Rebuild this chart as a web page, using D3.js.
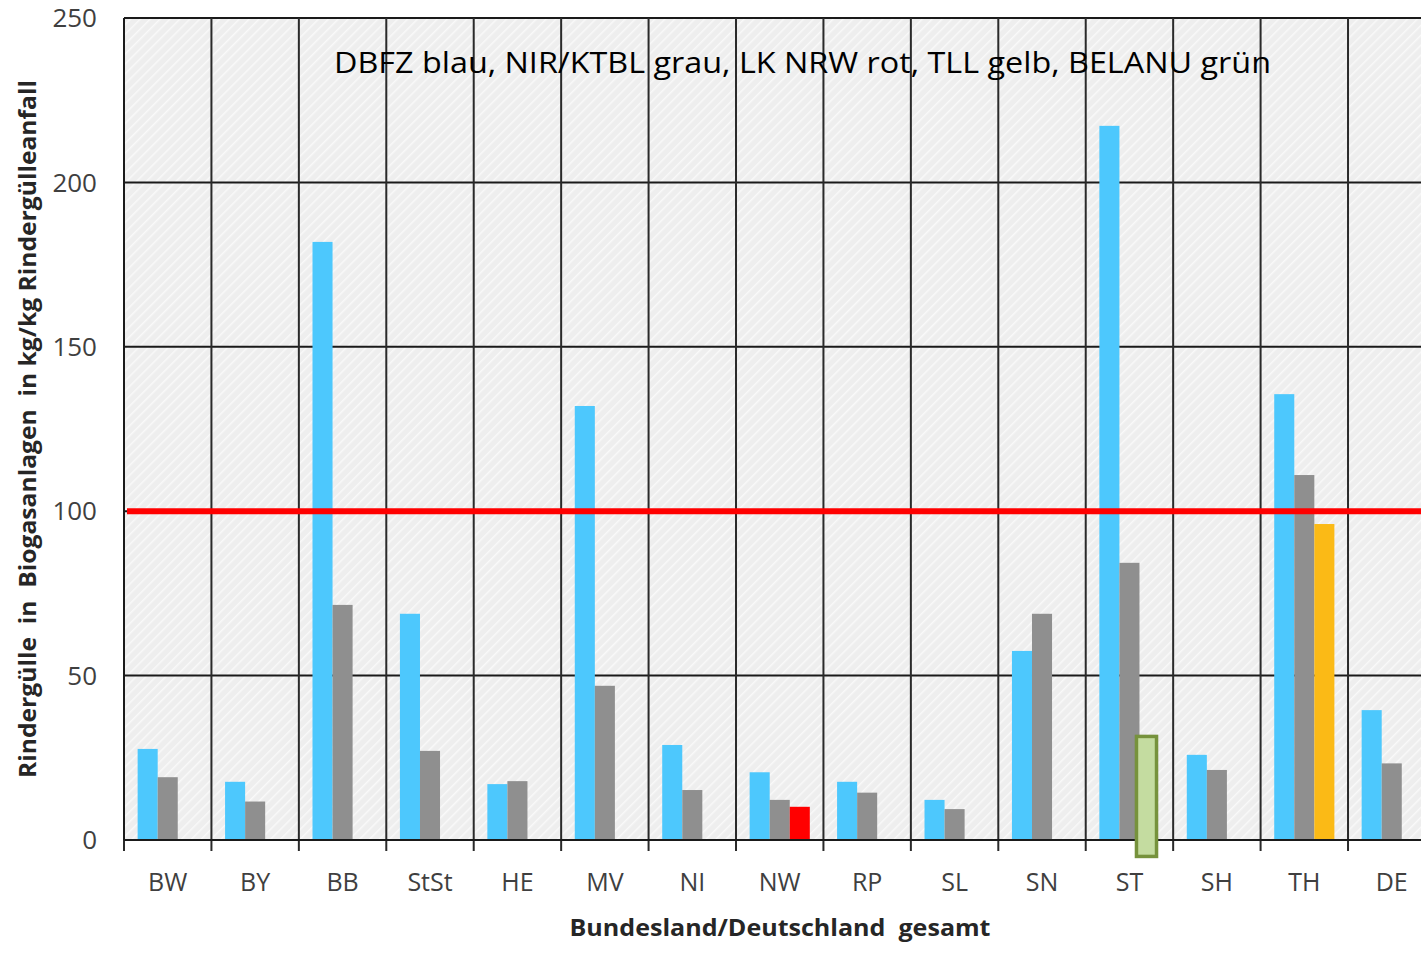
<!DOCTYPE html>
<html>
<head>
<meta charset="utf-8">
<script src="https://cdnjs.cloudflare.com/ajax/libs/d3/7.8.5/d3.min.js"></script>
<style>
  body { margin: 0; background: #fff; }
  svg text { font-family: "Open Sans", "Noto Sans", sans-serif; }
</style>
</head>
<body>
<svg id="chart" width="1421" height="955"></svg>
<script>
// categories (Bundeslaender + Deutschland)
var categories = ["BW", "BY", "BB", "StSt", "HE", "MV", "NI", "NW", "RP", "SL", "SN", "ST", "SH", "TH", "DE"];

// DBFZ (blau)
var dbfz = [27.7, 17.7, 181.9, 68.8, 17.0, 132.0, 28.9, 20.6, 17.7, 12.2, 57.5, 217.2, 25.9, 135.6, 39.5];
// NIR/KTBL (grau)
var nirKtbl = [19.1, 11.7, 71.5, 27.1, 17.9, 46.9, 15.2, 12.2, 14.4, 9.4, 68.8, 84.3, 21.3, 111.0, 23.3];
// LK NRW (rot), TLL (gelb), BELANU (gruen) - only single states
var lkNrw = [{ cat: "NW", value: 10.1 }];
var tll = [{ cat: "TH", value: 96.1 }];
var belanu = [{ cat: "ST", low: -5, value: 31.5 }];

var yTicks = [0, 50, 100, 150, 200, 250];
var refLine = 100;

var legendText = "DBFZ blau, NIR/KTBL grau, LK NRW rot, TLL gelb, BELANU grün";
var xTitle = "Bundesland/Deutschland  gesamt";
var yTitle = "Rindergülle  in  Biogasanlagen  in kg/kg Rindergülleanfall";

var margin = { top: 18, left: 124, bottom: 115 };
var height = 955;
var bandStep = 87.43;
var plotRight = margin.left + bandStep * categories.length;

var svg = d3.select("#chart");

var x = d3.scaleBand()
  .domain(categories)
  .range([margin.left, plotRight])
  .padding(0);

var slot = d3.scaleBand()
  .domain(["a", "b", "c"])
  .range([0, x.bandwidth()])
  .paddingInner(0)
  .paddingOuter(0.68);

var y = d3.scaleLinear()
  .domain([0, 250])
  .range([height - margin.bottom, margin.top]);

// hatched background
var defs = svg.append("defs");
var pat = defs.append("pattern")
  .attr("id", "hatch")
  .attr("patternUnits", "userSpaceOnUse")
  .attr("width", 7)
  .attr("height", 7)
  .attr("patternTransform", "rotate(45)");
pat.append("rect").attr("width", 7).attr("height", 7).attr("fill", "#eeeeee");
pat.append("line").attr("x1", 0).attr("y1", 0).attr("x2", 0).attr("y2", 7)
  .attr("stroke", "#f9f9f9").attr("stroke-width", 3);

svg.append("rect")
  .attr("x", margin.left)
  .attr("y", y(250))
  .attr("width", plotRight - margin.left)
  .attr("height", y(0) - y(250))
  .attr("fill", "url(#hatch)");

// horizontal grid
svg.append("g")
  .selectAll("line")
  .data(yTicks.filter(function(t){ return t > 0; }))
  .join("line")
  .attr("x1", margin.left)
  .attr("x2", plotRight)
  .attr("y1", function(d){ return y(d); })
  .attr("y2", function(d){ return y(d); })
  .attr("stroke", "#1a1a1a")
  .attr("stroke-width", 2);

// vertical grid at band boundaries
svg.append("g")
  .selectAll("line")
  .data(categories)
  .join("line")
  .attr("x1", function(d){ return x(d); })
  .attr("x2", function(d){ return x(d); })
  .attr("y1", y(250))
  .attr("y2", y(0) + 11)
  .attr("stroke", "#2a2a2a")
  .attr("stroke-width", 2);

// bars
function drawBars(values, slotKey, color) {
  svg.append("g")
    .selectAll("rect")
    .data(values)
    .join("rect")
    .attr("x", function(d, i){ return x(categories[i]) + slot(slotKey); })
    .attr("y", function(d){ return y(d); })
    .attr("width", slot.bandwidth())
    .attr("height", function(d){ return y(0) - y(d); })
    .attr("fill", color);
}
drawBars(dbfz, "a", "#4dc8fd");
drawBars(nirKtbl, "b", "#8f8f8f");

svg.append("g").selectAll("rect").data(lkNrw).join("rect")
  .attr("x", function(d){ return x(d.cat) + slot("c"); })
  .attr("y", function(d){ return y(d.value); })
  .attr("width", slot.bandwidth())
  .attr("height", function(d){ return y(0) - y(d.value); })
  .attr("fill", "#ff0000");

svg.append("g").selectAll("rect").data(tll).join("rect")
  .attr("x", function(d){ return x(d.cat) + slot("c"); })
  .attr("y", function(d){ return y(d.value); })
  .attr("width", slot.bandwidth())
  .attr("height", function(d){ return y(0) - y(d.value); })
  .attr("fill", "#fbba16");

// x axis line
svg.append("line")
  .attr("x1", margin.left)
  .attr("x2", plotRight)
  .attr("y1", y(0))
  .attr("y2", y(0))
  .attr("stroke", "#1a1a1a")
  .attr("stroke-width", 2);

// left border
svg.append("line")
  .attr("x1", margin.left).attr("x2", margin.left)
  .attr("y1", y(250)).attr("y2", y(0))
  .attr("stroke", "#1a1a1a").attr("stroke-width", 2);

// BELANU box (drawn over the axis)
svg.append("g").selectAll("rect").data(belanu).join("rect")
  .attr("x", function(d){ return x(d.cat) + slot("c") - 3; })
  .attr("y", function(d){ return y(d.value); })
  .attr("width", slot.bandwidth())
  .attr("height", function(d){ return y(d.low) - y(d.value); })
  .attr("fill", "#c4dca0")
  .attr("stroke", "#76923c")
  .attr("stroke-width", 3.5);

// reference line at 100
svg.append("line")
  .attr("x1", margin.left + 3)
  .attr("x2", plotRight)
  .attr("y1", y(refLine))
  .attr("y2", y(refLine))
  .attr("stroke", "#ff0000")
  .attr("stroke-width", 6);

// y tick labels
svg.append("g")
  .selectAll("text")
  .data(yTicks)
  .join("text")
  .attr("x", 97)
  .attr("y", function(d){ return y(d); })
  .attr("dy", "0.35em")
  .attr("text-anchor", "end")
  .attr("font-size", 26)
  .attr("fill", "#3f3f3f")
  .text(function(d){ return d; });

// x tick labels
svg.append("g")
  .selectAll("text")
  .data(categories)
  .join("text")
  .attr("x", function(d){ return x(d) + x.bandwidth() / 2; })
  .attr("y", 891)
  .attr("text-anchor", "middle")
  .attr("font-size", 25)
  .attr("fill", "#3f3f3f")
  .text(function(d){ return d; });

// axis titles
svg.append("text")
  .attr("x", 780)
  .attr("y", 936)
  .attr("text-anchor", "middle")
  .attr("font-size", 24)
  .attr("font-weight", "bold")
  .attr("fill", "#262626")
  .attr("xml:space", "preserve")
  .attr("textLength", 421)
  .attr("lengthAdjust", "spacingAndGlyphs")
  .text(xTitle);

svg.append("text")
  .attr("transform", "translate(36,429) rotate(-90)")
  .attr("text-anchor", "middle")
  .attr("font-size", 23)
  .attr("font-weight", "bold")
  .attr("fill", "#262626")
  .attr("xml:space", "preserve")
  .attr("textLength", 698)
  .attr("lengthAdjust", "spacingAndGlyphs")
  .text(yTitle);

// legend note inside plot
svg.append("text")
  .attr("x", 334)
  .attr("y", 73)
  .attr("font-size", 29)
  .attr("fill", "#000")
  .attr("textLength", 937)
  .attr("lengthAdjust", "spacingAndGlyphs")
  .text(legendText);
</script>
</body>
</html>
